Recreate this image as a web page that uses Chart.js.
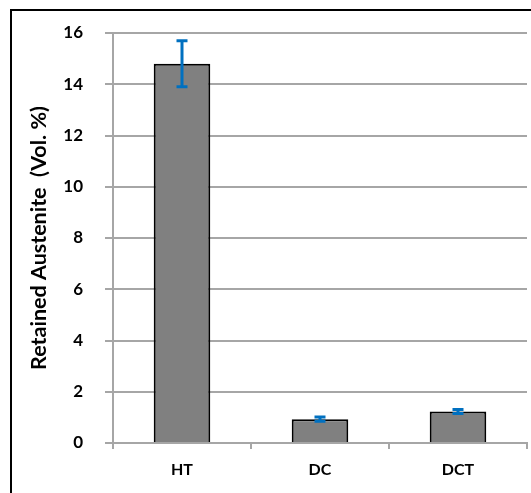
<!DOCTYPE html>
<html>
<head>
<meta charset="utf-8">
<script src="https://cdn.jsdelivr.net/npm/chart.js@4.4.1/dist/chart.umd.min.js"></script>
<style>
  html, body { margin: 0; padding: 0; background: #fff; }
  #wrap { position: relative; width: 531px; height: 493px; }
</style>
</head>
<body>
<div id="wrap"><canvas id="c" width="531" height="493"></canvas></div>
<script>
// Retained austenite by treatment
const categories = ['HT', 'DC', 'DCT'];
const austenite = [14.8, 0.93, 1.23];
const austeniteErr = [0.9, 0.08, 0.08];
const yTicks = [0, 2, 4, 6, 8, 10, 12, 14, 16];

const FONT = 'Lato, "Open Sans", "Liberation Sans", sans-serif';
const GRID = '#a6a6a6';

// Symmetric error bars drawn through the value scale
const errorBars = {
  id: 'errorBars',
  afterDatasetsDraw(chart) {
    const { ctx, scales: { y } } = chart;
    const meta = chart.getDatasetMeta(0);
    ctx.save();
    ctx.strokeStyle = '#0070c0';
    ctx.lineWidth = 3;
    ctx.lineCap = 'butt';
    meta.data.forEach((bar, i) => {
      const cx = bar.x;
      const hi = y.getPixelForValue(austenite[i] + austeniteErr[i]);
      const lo = y.getPixelForValue(austenite[i] - austeniteErr[i]);
      const half = 5.5;
      ctx.beginPath();
      ctx.moveTo(cx, hi); ctx.lineTo(cx, lo);
      ctx.moveTo(cx - half, hi); ctx.lineTo(cx + half, hi);
      ctx.moveTo(cx - half, lo); ctx.lineTo(cx + half, lo);
      ctx.stroke();
    });
    ctx.restore();
  }
};

// Frame around the figure (open on the right and bottom edges)
const frame = {
  id: 'frame',
  afterDraw(chart) {
    const { ctx } = chart;
    ctx.save();
    ctx.strokeStyle = '#000';
    ctx.lineWidth = 2;
    ctx.strokeRect(11, 10, 540, 500);
    ctx.restore();
  }
};

new Chart(document.getElementById('c'), {
  type: 'bar',
  data: {
    labels: categories,
    datasets: [{
      data: austenite,
      backgroundColor: '#808080',
      borderColor: '#000000',
      borderWidth: 2,
      borderSkipped: 'start',
      barPercentage: 0.82,
      categoryPercentage: 0.5
    }]
  },
  options: {
    responsive: false,
    animation: false,
    devicePixelRatio: 1,
    layout: { padding: { left: 0, right: 4, top: 33, bottom: 0 } },
    plugins: {
      legend: { display: false },
      tooltip: { enabled: false }
    },
    scales: {
      x: {
        grid: {
          offset: true,
          drawOnChartArea: false,
          drawTicks: true,
          tickLength: 6,
          color: GRID,
          lineWidth: 2
        },
        border: { color: GRID, width: 2 },
        ticks: {
          color: '#000',
          padding: 11,
          font: { family: FONT, size: 16, weight: 'bold' }
        },
        afterFit(scale) { scale.height = 50; }
      },
      y: {
        min: 0,
        max: 16,
        afterBuildTicks(scale) { scale.ticks = yTicks.map(v => ({ value: v })); },
        grid: {
          color: GRID,
          lineWidth: 2,
          drawTicks: true,
          tickLength: 8
        },
        border: { color: GRID, width: 2 },
        ticks: {
          color: '#000',
          padding: 22,
          font: { family: FONT, size: 17, weight: 'bold' }
        },
        title: {
          display: true,
          text: 'Retained Austenite  (Vol. %)',
          color: '#000',
          padding: { top: 26, bottom: 0 },
          font: { family: FONT, size: 21.5, weight: 'bold' }
        },
        afterFit(scale) { scale.width = 113; }
      }
    }
  },
  plugins: [errorBars, frame]
});
</script>
</body>
</html>
